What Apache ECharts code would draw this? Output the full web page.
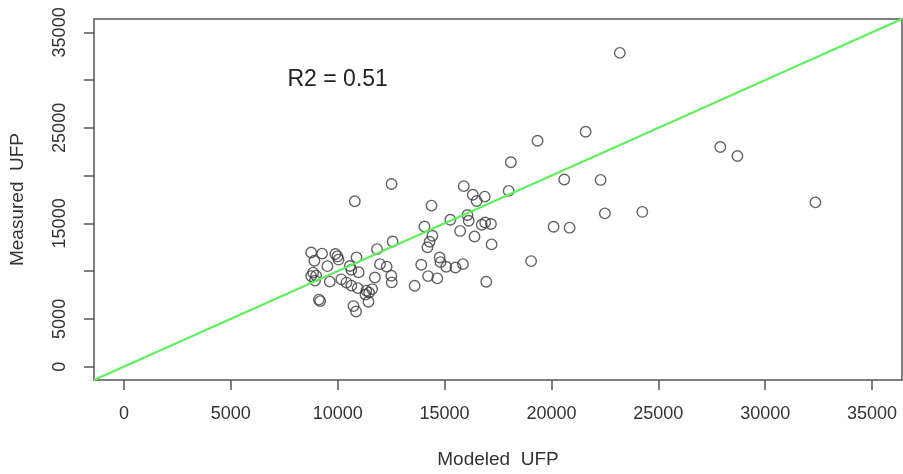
<!DOCTYPE html>
<html>
<head>
<meta charset="utf-8">
<script src="https://cdn.jsdelivr.net/npm/echarts@6/dist/echarts.min.js"></script>
<style>html,body{margin:0;padding:0;background:#fff;}#chart{width:903px;height:474px;}</style>
</head>
<body>
<div id="chart"></div>
<script>
// Modeled UFP (x) and Measured UFP (y)
const modeledUFP = [
  23200, 21600, 19350, 18100, 18000, 20600, 22300, 27900, 28700, 32350,
  22500, 24250, 20100, 20850, 19050, 16950, 17200, 15900, 16320, 16500,
  16880, 15270, 16070, 16130, 16740, 16900, 17170, 15730, 16400, 15080,
  15510, 15860, 14770, 14810, 14660, 14230, 13910, 13600, 14390, 14060,
  14430, 14300, 14200, 12520, 10800, 12570, 11840, 11980, 12290, 12510,
  12530, 11740, 11340, 11470, 11610, 11300, 11440, 10740, 10860, 10940,
  10640, 10410, 10170, 9630, 9120, 9180, 8760, 9270, 8910, 9890,
  9990, 10040, 10880, 9520, 10570, 10640, 10980, 8850, 8990, 8760,
  8940
];
const measuredUFP = [
  32850, 24600, 23650, 21400, 18400, 19600, 19550, 23000, 22050, 17200,
  16050, 16200, 14650, 14550, 11050, 8880, 12800, 18900, 18000, 17350,
  17800, 15380, 15870, 15270, 14860, 15090, 14940, 14210, 13630, 10460,
  10380, 10730, 11430, 10940, 9240, 9480, 10660, 8470, 16860, 14670,
  13710, 13080, 12500, 19120, 17310, 13100, 12300, 10730, 10470, 9520,
  8820, 9340, 7960, 7750, 8120, 7540, 6790, 6340, 5770, 8220,
  8480, 8800, 9140, 8900, 7020, 6860, 11950, 11830, 11090, 11790,
  11540, 11200, 11440, 10520, 10540, 10150, 9890, 9840, 9530, 9480,
  9010
];
const tickValues = [0, 5000, 10000, 15000, 20000, 25000, 30000, 35000];
const xLabelValues = [0, 5000, 10000, 15000, 20000, 25000, 30000, 35000];
const yLabelValues = [0, 5000, 15000, 25000, 35000];
const axisMin = -1400, axisMax = 36400;
const oneToOneLine = [[axisMin, axisMin], [axisMax, axisMax]];
const r2Text = 'R2 = 0.51';
const r2Pos = [10000, 30000];

const points = modeledUFP.map((x, i) => [x, measuredUFP[i]]);
const font = "'Liberation Sans', Arial, Helvetica, sans-serif";
const gray = '#555';
const plain = v => String(Math.round(v));

const chart = echarts.init(document.getElementById('chart'), null, {renderer: 'canvas'});
chart.setOption({
  animation: false,
  backgroundColor: '#fff',
  grid: {left: 94, top: 19, width: 808, height: 361, show: true, borderColor: gray, borderWidth: 1.5, backgroundColor: 'transparent'},
  xAxis: {
    type: 'value', min: axisMin, max: axisMax,
    splitLine: {show: false},
    axisLine: {show: false, onZero: false},
    axisTick: {show: true, customValues: tickValues, length: 10, inside: false, lineStyle: {color: gray, width: 1.5}},
    axisLabel: {show: true, customValues: xLabelValues, formatter: plain, margin: 25, fontSize: 18, color: '#333', fontFamily: font},
    name: 'Modeled  UFP', nameLocation: 'middle', nameGap: 70,
    nameTextStyle: {fontSize: 19, color: '#333', fontFamily: font}
  },
  yAxis: {
    type: 'value', min: axisMin, max: axisMax,
    splitLine: {show: false},
    axisLine: {show: false, onZero: false},
    axisTick: {show: true, customValues: tickValues, length: 10, inside: false, lineStyle: {color: gray, width: 1.5}},
    axisLabel: {show: true, customValues: yLabelValues, formatter: plain, rotate: 90, align: 'center', verticalAlign: 'bottom',
                margin: 25, fontSize: 18, color: '#333', fontFamily: font, showMaxLabel: true, showMinLabel: true, hideOverlap: false},
    name: 'Measured  UFP', nameLocation: 'middle', nameGap: 67, nameRotate: 90,
    nameTextStyle: {fontSize: 19, color: '#333', fontFamily: font}
  },
  series: [
    {
      type: 'line', data: oneToOneLine, symbol: 'none', silent: true, clip: true,
      lineStyle: {color: '#5cf05c', width: 2},
      markPoint: {
        symbol: 'circle', symbolSize: 0, silent: true,
        data: [{coord: r2Pos, value: r2Text}],
        label: {show: true, position: 'inside', formatter: r2Text, fontSize: 23, color: '#222', fontFamily: font}
      }
    },
    {
      type: 'scatter', data: points, symbol: 'circle', symbolSize: 10.5,
      itemStyle: {color: 'transparent', borderColor: '#3c3c3c', borderWidth: 1.4}
    }
  ]
});
</script>
</body>
</html>
